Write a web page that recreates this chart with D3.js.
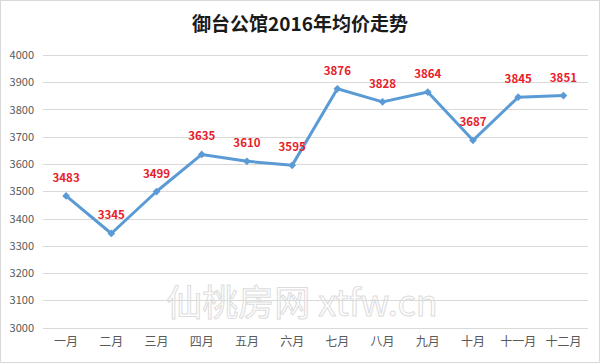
<!DOCTYPE html>
<html><head><meta charset="utf-8">
<script src="https://cdn.jsdelivr.net/npm/d3@7"></script>
<style>body{margin:0;background:#fff}svg{display:block}</style>
</head><body>
<svg id="c" width="600" height="363"></svg>
<script>
const title = "御台公馆2016年均价走势";
const months = ["一月","二月","三月","四月","五月","六月","七月","八月","九月","十月","十一月","十二月"];
const prices = [3483,3345,3499,3635,3610,3595,3876,3828,3864,3687,3845,3851];
const yTicks = [3000,3100,3200,3300,3400,3500,3600,3700,3800,3900,4000];

const svg = d3.select("#c");
const font = "'Microsoft YaHei','Noto Sans CJK SC',sans-serif";
svg.append("rect").attr("x",0.5).attr("y",0.5).attr("width",599).attr("height",362)
  .attr("fill","#fff").attr("stroke","#d9d9d9");

const x = d3.scaleBand().domain(months).range([43.5,586]);
const y = d3.scaleLinear().domain([3000,4000]).range([327.5,55]);

// gridlines
svg.append("g").selectAll("line").data(yTicks).join("line")
  .attr("x1",43).attr("x2",588).attr("y1",d=>Math.round(y(d))+0.5).attr("y2",d=>Math.round(y(d))+0.5)
  .attr("stroke","#d9d9d9").attr("stroke-width",1);

// watermark
svg.append("text").attr("x",302).attr("y",316).attr("text-anchor","middle")
  .attr("font-family",font).attr("font-size",36).attr("fill","none")
  .attr("stroke","#dcdcdc").attr("stroke-width",1)
  .text("仙桃房网 xtfw.cn");

// y axis
const yAxis = d3.axisLeft(y).tickValues(yTicks).tickFormat(d3.format("d")).tickSize(0).tickPadding(6);
const gy = svg.append("g").attr("transform","translate(40,0)").call(yAxis);
gy.select(".domain").remove();
gy.selectAll("text").attr("font-family",font).attr("font-size",11).attr("fill","#595959");

// x axis
const xAxis = d3.axisBottom(x).tickSize(0).tickPadding(0);
const gx = svg.append("g").attr("transform","translate(0,337)").call(xAxis);
gx.select(".domain").remove();
gx.selectAll("text").attr("font-family",font).attr("font-size",12).attr("fill","#595959");

// title
svg.append("text").attr("x",300).attr("y",31).attr("text-anchor","middle")
  .attr("font-family",font).attr("font-size",19).attr("font-weight","bold").attr("fill","#1a1a1a")
  .text(title);

const data = months.map((m,i)=>({m, v:prices[i]}));
const cx = d=>x(d.m)+x.bandwidth()/2;

svg.append("path").datum(data)
  .attr("d", d3.line().x(cx).y(d=>y(d.v)))
  .attr("fill","none").attr("stroke","#5b9bd5").attr("stroke-width",3).attr("stroke-linejoin","round");

svg.append("g").selectAll("path").data(data).join("path")
  .attr("d", d3.symbol(d3.symbolSquare, 30)())
  .attr("transform", d=>`translate(${cx(d)},${y(d.v)}) rotate(45)`)
  .attr("fill","#5b9bd5");

svg.append("g").selectAll("text").data(data).join("text")
  .attr("x",cx).attr("y",d=>y(d.v)-14).attr("text-anchor","middle")
  .attr("font-family",font).attr("font-size",11.5).attr("font-weight","bold").attr("fill","#e8202a")
  .text(d=>d.v);
</script>
</body></html>
